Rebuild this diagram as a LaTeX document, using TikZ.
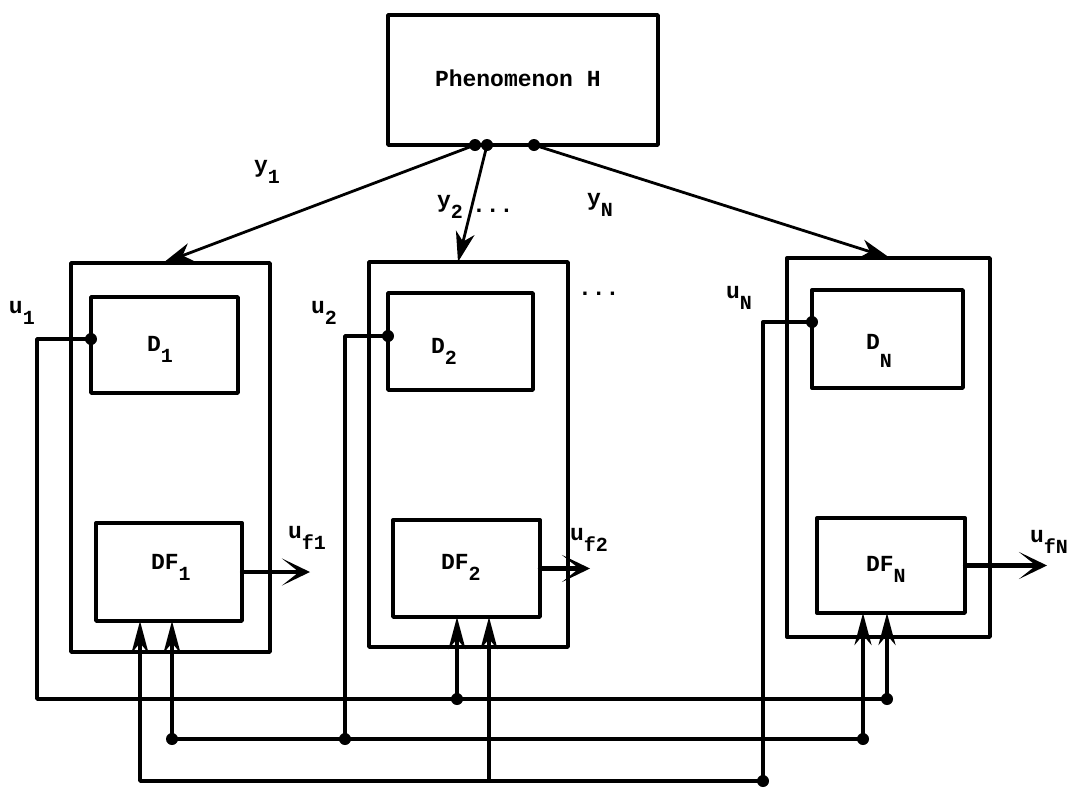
\documentclass[tikz,border=0pt]{standalone}
\usepackage{fontspec}
\setmonofont{Liberation Mono}
\usetikzlibrary{arrows.meta,calc}
\newcommand{\lowsub}[1]{\raisebox{-0.5em}{\fontsize{20}{20}\selectfont #1}}
\begin{document}
\begin{tikzpicture}[x=1pt,y=-1pt,
  line width=3.4pt, line join=round, line cap=round,
  box/.style={draw, rectangle, inner sep=0pt, outer sep=0pt},
  txt/.style={inner sep=0pt, outer sep=0pt, anchor=base west, font=\ttfamily\bfseries\fontsize{23}{23}\selectfont},
  yarrow/.style={-{Stealth[length=30pt,width=19pt,inset=9pt]}, line width=2.8pt},
  inarrow/.style={-{Stealth[length=32pt,width=17pt,inset=10pt]}},
  outarrow/.style={-{Stealth[length=28pt,width=27pt,inset=17pt]}, line width=4.2pt},
  dot/.style={circle, fill, inner sep=0pt, minimum size=12pt}]
\useasboundingbox (0,0) rectangle (1079,793);
% top box
\node[box, minimum width=270pt, minimum height=130pt] (H) at (523,80) {};
\node[txt] (Ht) at (435,86) {Phenomenon H};
% outer boxes
\node[box, minimum width=199pt, minimum height=389pt] (O1) at (170.5,457.5) {};
\node[box, minimum width=199pt, minimum height=385pt] (O2) at (468.5,454.5) {};
\node[box, minimum width=203pt, minimum height=379pt] (ON) at (888.5,447.5) {};
% inner boxes
\node[box, minimum width=147pt, minimum height=96pt] (D1) at (164.5,345) {};
\node[box, minimum width=146pt, minimum height=98pt] (DF1) at (169,572) {};
\node[box, minimum width=145pt, minimum height=97pt] (D2) at (460.5,341.5) {};
\node[box, minimum width=147pt, minimum height=97pt] (DF2) at (466.5,568.5) {};
\node[box, minimum width=151pt, minimum height=98pt] (DN) at (887.5,339) {};
\node[box, minimum width=148pt, minimum height=95pt] (DFN) at (891,565.5) {};
% box texts
\node[txt] (D1t) at (147,351) {D\lowsub{1}};
\node[txt] (D2t) at (431,353) {D\lowsub{2}};
\node[txt] (DNt) at (866,349) {D\raisebox{-0.8em}{\fontsize{20}{20}\selectfont N}};
\node[txt] (DF1t) at (151,569) {DF\lowsub{1}};
\node[txt] (DF2t) at (441,569) {DF\lowsub{2}};
\node[txt] (DFNt) at (866,571) {DF\lowsub{N}};
% outputs of H
\coordinate (h1) at ($(H.south)+(-48,0)$);
\coordinate (h2) at ($(H.south)+(-36,0)$);
\coordinate (hN) at ($(H.south)+(11,0)$);
\draw[yarrow] (h1) -- ([xshift=-7.5pt]O1.north);
\draw[yarrow] (h2) -- ([xshift=-10.5pt]O2.north);
\draw[yarrow] (hN) -- ([xshift=1.5pt]ON.north);
\node[dot] at (h1) {};
\node[dot] at (h2) {};
\node[dot] at (hN) {};
\node[txt] (y1) at (254,172) {y\lowsub{1}};
\node[txt] (y2) at (437,207) {y\lowsub{2}};
\node[txt] (dots1) at (472,212) {...};
\node[txt] (yN) at (587,205) {y\lowsub{N}};
\node[txt] (dots2) at (578,295) {...};
% input labels
\node[txt] (u1) at (9,313) {u\lowsub{1}};
\node[txt] (u2) at (311,313) {u\lowsub{2}};
\node[txt] (uN) at (726,298) {u\lowsub{N}};
% outputs
\coordinate (uf1e) at ($(DF1.east)+(68,0)$);
\coordinate (uf2e) at ($(DF2.east)+(50,0)$);
\coordinate (ufNe) at ($(DFN.east)+(82,0)$);
\draw[outarrow] (DF1.east) -- (uf1e);
\draw[outarrow] (DF2.east) -- (uf2e);
\draw[outarrow] (DFN.east) -- (ufNe);
\node[txt] (uf1) at (288,538) {u\lowsub{f1}};
\node[txt] (uf2) at (570,540) {u\lowsub{f2}};
\node[txt] (ufN) at (1030,542) {u\lowsub{fN}};
% input points
\coordinate (d1in) at ([yshift=6pt]D1.west);
\coordinate (d2in) at ([yshift=5.5pt]D2.west);
\coordinate (dNin) at ([yshift=17pt]DN.west);
\coordinate (f1a) at ([xshift=-29pt]DF1.south);
\coordinate (f1b) at ([xshift=3pt]DF1.south);
\coordinate (f2a) at ([xshift=-9.5pt]DF2.south);
\coordinate (f2b) at ([xshift=22.5pt]DF2.south);
\coordinate (fNa) at ([xshift=-28pt]DFN.south);
\coordinate (fNb) at ([xshift=-4pt]DFN.south);
% bus 1 (u1)
\coordinate (b1L) at (37,699);
\coordinate (b1R) at (fNb |- b1L);
\coordinate (j1) at (f2a |- b1L);
\draw[inarrow] (d1in) -| (b1L) -- (b1R) -- (fNb);
\draw[inarrow] (j1) -- (f2a);
% bus 2 (u2)
\coordinate (b2U) at (345,739);
\coordinate (b2L) at (f1b |- b2U);
\coordinate (b2R) at (fNa |- b2U);
\draw (d2in) -| (b2U);
\draw (b2L) -- (b2R);
\draw[inarrow] (b2L) -- (f1b);
\draw[inarrow] (b2R) -- (fNa);
% bus 3 (uN)
\coordinate (b3U) at (763,781);
\coordinate (b3L) at (f1a |- b3U);
\coordinate (j3) at (f2b |- b3U);
\draw[inarrow] (dNin) -| (b3U) -- (b3L) -- (f1a);
\draw[inarrow] (j3) -- (f2b);
% junction dots
\foreach \p in {d1in,d2in,dNin,j1,b1R,b2L,b2U,b2R,b3U}
  \node[dot] at (\p) {};
\end{tikzpicture}
\end{document}
